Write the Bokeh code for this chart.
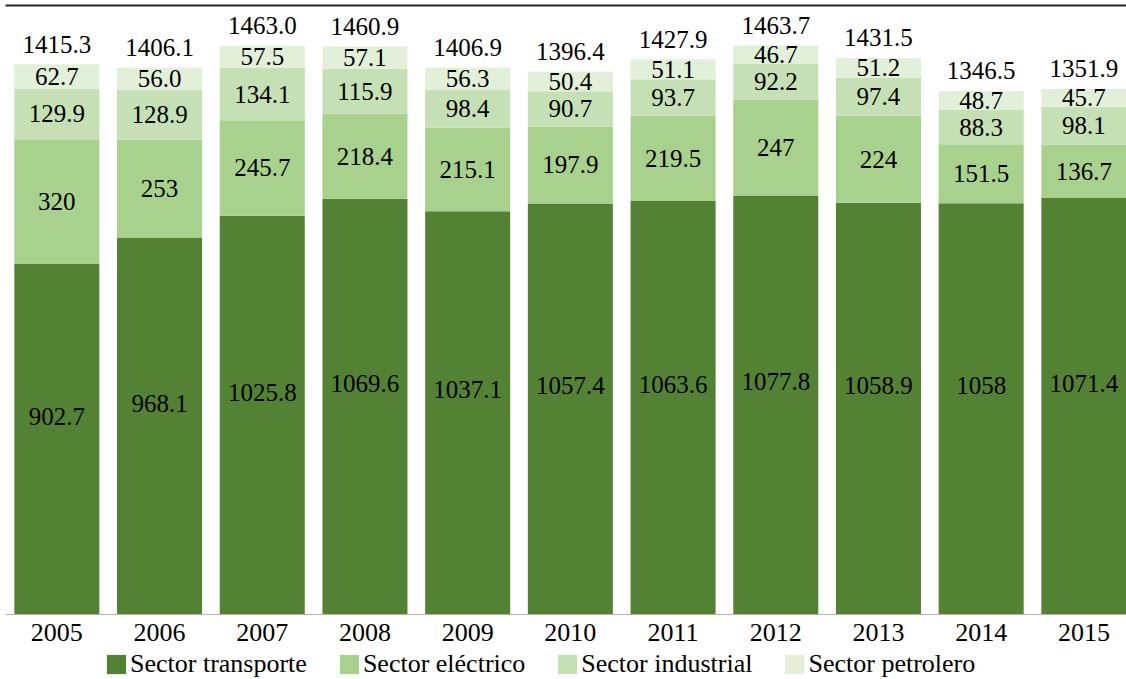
from bokeh.plotting import figure
from bokeh.models import (ColumnDataSource, Range1d, FixedTicker, LinearAxis,
                          Legend, LegendItem, LabelSet)
from bokeh.layouts import column
from bokeh.core.properties import value
from bokeh.embed import file_html
from bokeh.resources import INLINE

# ---------------- data ----------------
years = ["2005", "2006", "2007", "2008", "2009", "2010", "2011", "2012", "2013", "2014", "2015"]
transporte = [902.7, 968.1, 1025.8, 1069.6, 1037.1, 1057.4, 1063.6, 1077.8, 1058.9, 1058, 1071.4]
electrico = [320, 253, 245.7, 218.4, 215.1, 197.9, 219.5, 247, 224, 151.5, 136.7]
industrial = [129.9, 128.9, 134.1, 115.9, 98.4, 90.7, 93.7, 92.2, 97.4, 88.3, 98.1]
petrolero = [62.7, 56.0, 57.5, 57.1, 56.3, 50.4, 51.1, 46.7, 51.2, 48.7, 45.7]
totales = [1415.3, 1406.1, 1463.0, 1460.9, 1406.9, 1396.4, 1427.9, 1463.7, 1431.5, 1346.5, 1351.9]

transporte_lbl = ["902.7", "968.1", "1025.8", "1069.6", "1037.1", "1057.4", "1063.6", "1077.8", "1058.9", "1058", "1071.4"]
electrico_lbl = ["320", "253", "245.7", "218.4", "215.1", "197.9", "219.5", "247", "224", "151.5", "136.7"]
industrial_lbl = ["129.9", "128.9", "134.1", "115.9", "98.4", "90.7", "93.7", "92.2", "97.4", "88.3", "98.1"]
petrolero_lbl = ["62.7", "56.0", "57.5", "57.1", "56.3", "50.4", "51.1", "46.7", "51.2", "48.7", "45.7"]
totales_lbl = ["1415.3", "1406.1", "1463.0", "1460.9", "1406.9", "1396.4", "1427.9", "1463.7", "1431.5", "1346.5", "1351.9"]

series_names = ["Sector transporte", "Sector eléctrico", "Sector industrial", "Sector petrolero"]
colors = ["#548235", "#A9D18E", "#C5E0B4", "#E2F0D9"]

FONT = "Liberation Serif"

# ---------------- source ----------------
x = list(range(len(years)))
keys = ["transporte", "electrico", "industrial", "petrolero"]
vals = [transporte, electrico, industrial, petrolero]
lbls = [transporte_lbl, electrico_lbl, industrial_lbl, petrolero_lbl]
data = dict(x=x, total=totales, total_lbl=totales_lbl)
bottom = [0.0] * len(years)
for k, v, l in zip(keys, vals, lbls):
    data[k] = v
    data[k + "_mid"] = [b + vv / 2.0 for b, vv in zip(bottom, v)]
    data[k + "_lbl"] = l
    bottom = [b + vv for b, vv in zip(bottom, v)]
data["top"] = bottom
source = ColumnDataSource(data)

# ---------------- main figure ----------------
p = figure(width=1126, height=648, output_backend="svg", toolbar_location=None,
           x_range=Range1d(-0.5, 10.415), y_range=Range1d(0, 1566.4),
           x_axis_location=None, y_axis_location=None,
           min_border_left=5, min_border_right=0, min_border_top=5, min_border_bottom=34)
p.grid.visible = False
p.outline_line_color = None
p.background_fill_color = "white"
p.border_fill_color = "white"

renderers = p.vbar_stack(keys, x="x", width=0.828, color=colors, source=source,
                         line_color=None)

# bottom axis
xaxis = LinearAxis(ticker=FixedTicker(ticks=x),
                   major_label_overrides={i: y for i, y in zip(x, years)})
xaxis.axis_line_color = "#b4b4b4"
xaxis.axis_line_width = 1
xaxis.major_tick_line_color = None
xaxis.minor_tick_line_color = None
xaxis.major_label_text_font = FONT
xaxis.major_label_text_font_size = "26px"
xaxis.major_label_text_color = "#000000"
xaxis.major_label_standoff = 3
p.add_layout(xaxis, "below")

# top rule
top_axis = LinearAxis(ticker=FixedTicker(ticks=[]))
top_axis.axis_line_color = "#262626"
top_axis.axis_line_width = 2
top_axis.major_tick_line_color = None
top_axis.minor_tick_line_color = None
top_axis.major_label_text_font_size = "0px"
p.add_layout(top_axis, "above")

# value labels
common = dict(source=source, text_font=value(FONT), text_font_size="25px",
              text_align="center", text_baseline="middle", text_color="#000000")
p.add_layout(LabelSet(x="x", y="transporte_mid", text="transporte_lbl", y_offset=23, **common))
p.add_layout(LabelSet(x="x", y="electrico_mid", text="electrico_lbl", **common))
p.add_layout(LabelSet(x="x", y="industrial_mid", text="industrial_lbl", **common))
p.add_layout(LabelSet(x="x", y="petrolero_mid", text="petrolero_lbl", **common))
p.add_layout(LabelSet(x="x", y="top", text="total_lbl", y_offset=20, **common))

# ---------------- legend strip ----------------
p2 = figure(width=1126, height=31, output_backend="svg", toolbar_location=None,
            x_range=Range1d(0, 1), y_range=Range1d(0, 1),
            x_axis_location=None, y_axis_location=None,
            min_border_left=0, min_border_right=0, min_border_top=0, min_border_bottom=0)
p2.grid.visible = False
p2.outline_line_color = None
p2.border_fill_color = "white"
# swatch renderers: one point each, kept outside the visible range
swatch = ColumnDataSource(dict(x=[50], top=[50]))
leg_renderers = [p2.vbar(x="x", top="top", width=0.1, source=swatch, color=c, line_color=None)
                 for c in colors]
legend = Legend(items=[LegendItem(label=n, renderers=[r]) for n, r in zip(series_names, leg_renderers)],
                orientation="horizontal", location=(99, 0),
                glyph_width=24, glyph_height=24, label_standoff=2, spacing=30,
                padding=0, margin=0, border_line_color=None, background_fill_alpha=0,
                label_text_font=FONT, label_text_font_size="26px", label_text_color="#000000",
                label_height=24)
p2.add_layout(legend, "center")

layout = column(p, p2, spacing=0)
open("out.html", "w").write(file_html(layout, INLINE))
